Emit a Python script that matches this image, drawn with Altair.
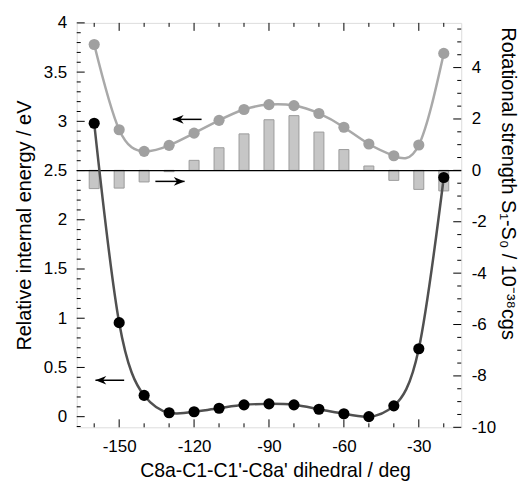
import altair as alt
import pandas as pd

# ---- data ----
angle = [-160, -150, -140, -130, -120, -110, -100, -90, -80, -70, -60, -50, -40, -30, -20]
energy_s0 = [2.98, 0.955, 0.216, 0.04, 0.05, 0.085, 0.12, 0.13, 0.12, 0.075, 0.03, 0.0, 0.11, 0.69, 2.43]
energy_s1 = [3.78, 2.915, 2.695, 2.756, 2.88, 3.01, 3.12, 3.17, 3.16, 3.08, 2.94, 2.77, 2.65, 2.76, 3.69]
rot_strength = [-0.71, -0.69, -0.45, -0.05, 0.39, 0.88, 1.42, 1.97, 2.13, 1.49, 0.81, 0.17, -0.39, -0.74, -0.80]

x_labels = [-150, -120, -90, -60, -30]
x_minor = [-160, -140, -130, -110, -100, -80, -70, -50, -40, -20]
left_labels = [0, 0.5, 1, 1.5, 2, 2.5, 3, 3.5, 4]
left_minor = [round(i * 0.1, 1) for i in range(-1, 41) if i % 5 != 0]
right_labels = [-10, -8, -6, -4, -2, 0, 2, 4]
right_minor = [i * 0.5 for i in range(-19, 12) if i % 4 != 0]

# arrows: start x, end (tip) x, y on left axis, direction
arrow_x0 = [-117.0, -135.5, -148.0]
arrow_x1 = [-128.5, -123.8, -159.5]
arrow_y = [3.02, 2.39, 0.37]
arrow_dir = ["left", "right", "left"]

W, H = 386, 406
FONT = "Liberation Sans, Arial, sans-serif"
LBL = "datum.value + ''"

df = pd.DataFrame({"angle": angle, "s0": energy_s0, "s1": energy_s1, "rot": rot_strength})
arr = pd.DataFrame({"x0": arrow_x0, "x1": arrow_x1, "y": arrow_y, "dir": arrow_dir})

xs = alt.Scale(domain=[-165, -15], nice=False, zero=False)
yl = alt.Scale(domain=[-0.108, 4.0], nice=False, zero=False)
yr = alt.Scale(domain=[-10, 5.74], nice=False, zero=False)

xaxis = alt.Axis(values=x_labels, labelExpr=LBL, ticks=False, domain=False, grid=False,
                 labelPadding=11, labelFontSize=17, labelFont=FONT, labelColor="black",
                 title="C8a-C1-C1'-C8a' dihedral / deg", titleFont=FONT, titleFontSize=19.5,
                 titleFontWeight="normal", titleColor="black", titleX=199, titleY=43,
                 titleAlign="center", titleBaseline="middle")
yaxisL = alt.Axis(values=left_labels, labelExpr=LBL, ticks=False, domain=False, grid=False,
                  labelPadding=10, labelFontSize=17, labelFont=FONT, labelColor="black",
                  title="Relative internal energy / eV", titleFont=FONT, titleFontSize=20,
                  titleFontWeight="normal", titleColor="black", titleX=-52, titleY=H / 2,
                  titleAngle=270, titleAlign="center", titleBaseline="middle")
yaxisR = alt.Axis(orient="right", values=right_labels, labelExpr=LBL, ticks=False, domain=False,
                  grid=False, labelPadding=10, labelFontSize=17, labelFont=FONT,
                  labelColor="black",
                  title="Rotational strength S₁-S₀ / 10⁻³⁸cgs", titleFont=FONT,
                  titleFontSize=20, titleFontWeight="normal", titleColor="black",
                  titleX=46, titleY=4, titleAngle=90, titleAlign="left",
                  titleBaseline="middle")

X = alt.X("angle:Q", scale=xs, axis=xaxis)

# ---- right-axis layer (bars + right ticks) ----
bars = alt.Chart(df).mark_bar(width=10, color="#c6c6c6", stroke="#9c9c9c", strokeWidth=1).encode(
    x=X, y=alt.Y("rot:Q", scale=yr, axis=yaxisR), y2=alt.datum(0))

rmaj = alt.Chart(pd.DataFrame({"v": right_labels})).mark_rule(color="black", strokeWidth=1).encode(
    y=alt.Y("v:Q", scale=yr, axis=yaxisR), x=alt.value(W - 8), x2=alt.value(W))
rmin = alt.Chart(pd.DataFrame({"v": right_minor})).mark_rule(color="black", strokeWidth=1).encode(
    y=alt.Y("v:Q", scale=yr, axis=yaxisR), x=alt.value(W - 4), x2=alt.value(W))

right_layer = alt.layer(bars, rmaj, rmin)

# ---- left-axis layer ----
YL = lambda f: alt.Y(f, scale=yl, axis=yaxisL)

zero_line = alt.Chart(pd.DataFrame({"v": [2.5]})).mark_rule(color="black", strokeWidth=1.2).encode(
    y=YL("v:Q"), x=alt.value(0), x2=alt.value(W))

s1_line = alt.Chart(df).mark_line(color="#a9a9a9", strokeWidth=2.5, interpolate="natural").encode(
    x=X, y=YL("s1:Q"))
s1_pts = alt.Chart(df).mark_circle(color="#a0a0a0", size=125, opacity=1).encode(x=X, y=YL("s1:Q"))
s0_line = alt.Chart(df).mark_line(color="#505050", strokeWidth=2.5, interpolate="natural").encode(
    x=X, y=YL("s0:Q"))
s0_pts = alt.Chart(df).mark_circle(color="black", size=125, opacity=1).encode(x=X, y=YL("s0:Q"))

arrow_shafts = alt.Chart(arr).mark_rule(color="black", strokeWidth=1.5).encode(
    x=alt.X("x0:Q", scale=xs, axis=xaxis), x2="x1:Q", y=YL("y:Q"))
left_head = "M 0 0 L 1.5 -0.6 L 1.05 0 L 1.5 0.6 Z"
right_head = "M 0 0 L -1.5 -0.6 L -1.05 0 L -1.5 0.6 Z"
heads_l = alt.Chart(arr).transform_filter(alt.datum.dir == "left").mark_point(
    shape=left_head, filled=True, color="black", size=210, opacity=1).encode(
    x=alt.X("x1:Q", scale=xs, axis=xaxis), y=YL("y:Q"))
heads_r = alt.Chart(arr).transform_filter(alt.datum.dir == "right").mark_point(
    shape=right_head, filled=True, color="black", size=210, opacity=1).encode(
    x=alt.X("x1:Q", scale=xs, axis=xaxis), y=YL("y:Q"))

lmaj = alt.Chart(pd.DataFrame({"v": left_labels})).mark_rule(color="black", strokeWidth=1).encode(
    y=YL("v:Q"), x=alt.value(0), x2=alt.value(8))
lmin = alt.Chart(pd.DataFrame({"v": left_minor})).mark_rule(color="black", strokeWidth=1).encode(
    y=YL("v:Q"), x=alt.value(0), x2=alt.value(4))

xt = pd.DataFrame({"v": x_labels})
xm = pd.DataFrame({"v": x_minor})
XV = alt.X("v:Q", scale=xs, axis=xaxis)
bmaj = alt.Chart(xt).mark_rule(color="black", strokeWidth=1).encode(x=XV, y=alt.value(H - 8), y2=alt.value(H))
bmin = alt.Chart(xm).mark_rule(color="black", strokeWidth=1).encode(x=XV, y=alt.value(H - 4), y2=alt.value(H))
tmaj = alt.Chart(xt).mark_rule(color="black", strokeWidth=1).encode(x=XV, y=alt.value(0), y2=alt.value(8))
tmin = alt.Chart(xm).mark_rule(color="black", strokeWidth=1).encode(x=XV, y=alt.value(0), y2=alt.value(4))

left_layer = alt.layer(zero_line, s1_line, s1_pts, s0_line, s0_pts,
                       arrow_shafts, heads_l, heads_r, lmaj, lmin, bmaj, bmin, tmaj, tmin)

chart = alt.layer(right_layer, left_layer).resolve_scale(y="independent").properties(
    width=W, height=H,
    autosize=alt.AutoSizeParams(type="none"),
    padding={"left": 69, "top": 14, "right": 60, "bottom": 62},
).configure_view(stroke="black", strokeWidth=1.2).configure(background="white")

chart.save("out.html", embed_options={"renderer": "svg", "actions": False})
